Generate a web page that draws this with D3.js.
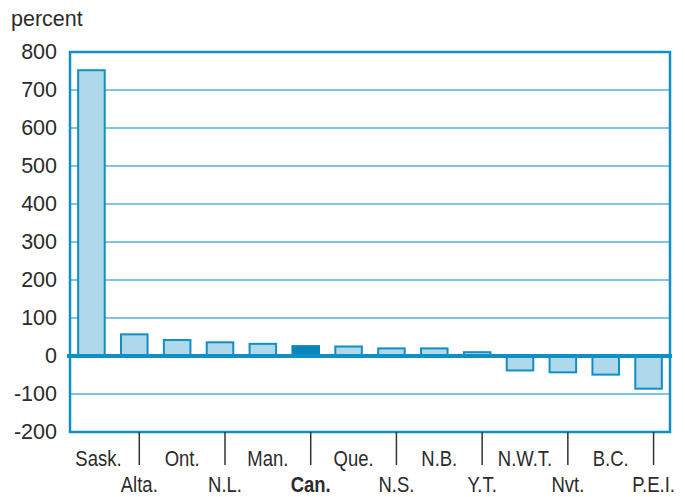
<!DOCTYPE html>
<html><head><meta charset="utf-8">
<script src="https://cdn.jsdelivr.net/npm/d3@7"></script>
<style>body{margin:0;background:#fff}</style>
</head><body>
<svg id="c" width="685" height="497"></svg>
<script>
const categories = ["Sask.","Alta.","Ont.","N.L.","Man.","Can.","Que.","N.S.","N.B.","Y.T.","N.W.T.","Nvt.","B.C.","P.E.I."];
const values = [752, 57, 42, 36, 32, 26, 25, 20, 20, 10, -38, -43, -49, -86];
const highlight = "Can.";
const yTicks = [-200,-100,0,100,200,300,400,500,600,700,800];
const yLabel = "percent";

const W = 685, H = 497;
const m = {left:70, right:15, top:52, bottom:65};
const svg = d3.select("#c");
const x = d3.scaleBand().domain(categories).range([m.left, W - m.right]).paddingInner(0.38).paddingOuter(0.19);
const y = d3.scaleLinear().domain([-200, 800]).range([H - m.bottom, m.top]);
const frameCol = "#0f8fc6", gridCol = "#7fc6e4", barFill = "#afd8ea", darkFill = "#0a84bd", txt = "#2b2b2b";
const font = "'Liberation Sans',Arial,sans-serif";

// gridlines
svg.append("g").selectAll("line").data(yTicks.filter(d => d !== 0 && d !== 800 && d !== -200)).join("line")
  .attr("x1", m.left).attr("x2", W - m.right).attr("y1", d => y(d)).attr("y2", d => y(d))
  .attr("stroke", gridCol).attr("stroke-width", 2);

// y labels
const yAxis = d3.axisLeft(y).tickValues(yTicks).tickSize(0).tickPadding(13).tickFormat(d => String(d));
const gy = svg.append("g").attr("transform", `translate(${m.left},0)`).call(yAxis);
gy.select(".domain").remove();
gy.selectAll("text").attr("font-family", font).attr("font-size", 21.5).attr("fill", txt);

// bars
svg.append("g").selectAll("rect").data(categories).join("rect")
  .attr("x", d => x(d)).attr("width", x.bandwidth())
  .attr("y", (d, i) => y(Math.max(0, values[i])))
  .attr("height", (d, i) => Math.abs(y(values[i]) - y(0)))
  .attr("fill", d => d === highlight ? darkFill : barFill)
  .attr("stroke", d => d === highlight ? darkFill : frameCol).attr("stroke-width", 2);

// frame
svg.append("rect").attr("x", m.left).attr("y", m.top).attr("width", W - m.right - m.left).attr("height", H - m.bottom - m.top)
  .attr("fill", "none").attr("stroke", frameCol).attr("stroke-width", 2.5);

// zero line
svg.append("line").attr("x1", m.left - 3).attr("x2", W - m.right + 2).attr("y1", y(0)).attr("y2", y(0))
  .attr("stroke", frameCol).attr("stroke-width", 4);

// x ticks & labels
const off = 5;
const gx = svg.append("g");
gx.selectAll("line").data(categories.filter((d, i) => i % 2 === 1)).join("line")
  .attr("x1", d => x(d) + x.bandwidth()/2 + off).attr("x2", d => x(d) + x.bandwidth()/2 + off)
  .attr("y1", y(-200)).attr("y2", y(-200) + 33).attr("stroke", "#333").attr("stroke-width", 1.5);
gx.selectAll("text").data(categories).join("text")
  .attr("transform", (d, i) => `translate(${x(d) + x.bandwidth()/2 + off + (i === 0 ? 2 : 0)},${i % 2 === 0 ? 466 : 492}) scale(0.86,1)`)
  .attr("text-anchor", "middle")
  .attr("font-family", font).attr("font-size", 21.5)
  .attr("font-weight", d => d === highlight ? "bold" : "normal")
  .attr("fill", txt).text(d => d);

svg.append("text").attr("x", 11).attr("y", 26).attr("font-family", font)
  .attr("font-size", 21.5).attr("fill", txt).text(yLabel);
</script>
</body></html>
